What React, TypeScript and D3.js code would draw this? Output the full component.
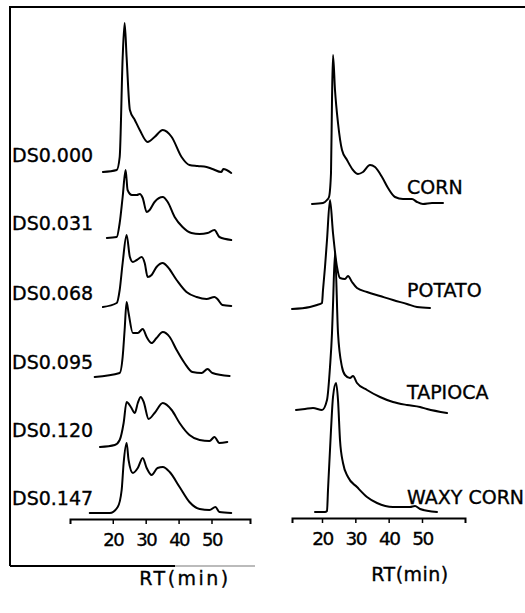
import React, { useEffect, useRef } from "react";
import * as d3 from "d3";

// retention time (min), relative detector response
const ds000 = [[17, 0], [21.2, 2], [22.1, 15], [23, 114], [23.6, 149], [24.2, 115], [25.2, 62], [26.7, 52], [28.2, 42], [30.6, 30], [32.7, 35], [35.2, 42], [37.9, 35], [40.9, 15], [43.3, 7], [45.8, 6], [48.5, 5], [50.3, 3], [53, 0], [53.6, 3], [56, -1]];
const ds031 = [[18.2, 1], [21.2, 2], [22.1, 16], [23, 42], [23.9, 69], [24.5, 49], [25.8, 44], [27.3, 44], [28.2, 45], [29.1, 41], [30.3, 27], [31.2, 29], [32.7, 37], [35.2, 42], [36.7, 37], [38.8, 22], [41.2, 12], [43.9, 6], [46.4, 5], [48.8, 6], [50.9, 9], [52.4, 2], [56, -1]];
const ds068 = [[17, 0], [21.2, 4], [22.1, 17], [23, 44], [24.2, 72], [25.2, 50], [26.1, 45], [27.3, 47], [28.8, 50], [29.7, 44], [30.6, 30], [31.8, 32], [33.3, 40], [35.2, 44], [36.7, 40], [39.4, 27], [42.4, 15], [45.5, 10], [48.5, 8], [50.9, 10], [51.8, 8], [53.3, 2], [56, 1]];
const ds095 = [[14.5, 0], [22.1, 4], [23, 20], [23.6, 47], [24.2, 75], [24.8, 64], [26.1, 44], [27.6, 44], [29.1, 48], [30.3, 40], [31.8, 34], [33.3, 39], [35.2, 45], [37.3, 40], [39.4, 27], [41.8, 14], [44.2, 5], [47, 4], [48.8, 8], [50.3, 4], [55.5, 1]];
const ds120 = [[16.1, 0], [20.6, 2], [22.1, 7], [23.3, 24], [24.2, 45], [25.5, 40], [26.7, 34], [27.6, 44], [28.5, 50], [29.4, 45], [30.9, 28], [32.7, 34], [35.2, 44], [37.9, 37], [40.3, 24], [43.3, 12], [46.4, 7], [49.4, 6], [50.9, 10], [52.4, 4], [54.8, 5]];
const ds147 = [[13, 0], [19.1, 0], [21.5, 6], [22.7, 23], [23.3, 50], [24.2, 70], [24.8, 53], [26.1, 40], [27.6, 45], [29.1, 55], [30.3, 45], [31.8, 38], [33.6, 45], [35.2, 46], [37.3, 41], [40.3, 26], [43.3, 11], [46.4, 4], [49.4, 3], [51.2, 6], [52.4, 1], [56, 0]];

const corn = [[17, 0], [20.3, 1], [21.5, 4], [22.1, 7], [22.7, 31], [23, 104], [23.3, 149], [23.9, 114], [24.8, 81], [26, 54], [27.5, 44], [29.3, 34], [30.8, 30], [32.3, 32], [34.4, 39], [35.9, 37], [38, 27], [39.8, 16], [41.9, 7], [44.3, 5], [47, 5], [48.5, 2], [50.3, 0], [53, 1], [56.3, 1]];
const potato = [[11, -1], [16.4, 1], [18.5, 3], [20, 5], [20.3, 18], [20.9, 41], [21.5, 68], [22.4, 108], [23.3, 75], [24.5, 41], [25.4, 30], [26.9, 29], [27.8, 32], [29, 26], [30.5, 20], [33.5, 16], [37.4, 12], [41.3, 8], [45.5, 4], [48.5, 1], [52.4, 0]];
const tapioca = [[12.2, 0], [14.9, 1], [17.3, 2], [20, 0], [21.5, 10], [22.4, 43], [23, 77], [23.3, 105], [23.9, 157], [24.8, 77], [26, 43], [26.9, 35], [28.4, 32], [29.3, 34], [30.5, 27], [33.5, 20], [37.4, 13], [41.3, 8], [45.5, 5], [49.4, 3], [51.5, 1], [57.5, -3]];
const waxyCorn = [[17.9, 0], [20.9, 0], [21.5, 1], [21.8, 22], [22.7, 82], [23.3, 115], [24.2, 129], [24.8, 112], [25.4, 72], [26.3, 49], [27.8, 35], [30.5, 25], [33.5, 15], [36.5, 9], [41.3, 5], [46.4, 5], [47.9, 6], [49.4, 3], [54.5, 0]];

const leftSeries = [ds000, ds031, ds068, ds095, ds120, ds147];
const leftLabels = ["DS0.000", "DS0.031", "DS0.068", "DS0.095", "DS0.120", "DS0.147"];
const rightSeries = [corn, potato, tapioca, waxyCorn];
const rightLabels = ["CORN", "POTATO", "TAPIOCA", "WAXY CORN"];
const tickValues = [20, 30, 40, 50];
const axisTitle = "RT(min)";

const W = 525;
const H = 613;
const FONT = "'DejaVu Sans', 'Liberation Sans', sans-serif";

const App = () => {
    const svgRef = useRef(null);

    useEffect(() => {
        const svg = d3.select(svgRef.current);
        svg.selectAll("*").remove();

        // frame (open on the right, as in the scan)
        svg.append("path")
            .attr("d", "M10,566 L10,7 L525,7")
            .attr("fill", "none")
            .attr("stroke", "#000")
            .attr("stroke-width", 2);
        svg.append("line")
            .attr("x1", 10).attr("x2", 175).attr("y1", 566).attr("y2", 566)
            .attr("stroke", "#000").attr("stroke-width", 2);
        svg.append("line")
            .attr("x1", 175).attr("x2", 255).attr("y1", 566).attr("y2", 566)
            .attr("stroke", "#bbb").attr("stroke-width", 2);

        const y = d3.scaleLinear().domain([0, 150]).range([0, 150]);

        const panels = [
            {
                x: d3.scaleLinear().domain([7, 61.7]).range([70, 250]),
                series: leftSeries,
                labels: leftLabels,
                baselines: [172, 239, 307, 377, 447, 513],
                labelX: 12,
                labelY: [155, 223, 293, 362, 430, 498],
                axisY: 519,
                tickSize: 18,
                titleX: 185,
                titleSpacing: 2.5,
                titleY: 578,
            },
            {
                x: d3.scaleLinear().domain([11, 62.9]).range([292, 465]),
                series: rightSeries,
                labels: rightLabels,
                baselines: [204, 308, 410, 512],
                labelX: 407,
                labelY: [187, 290, 392, 497],
                axisY: 518,
                tickSize: 18.5,
                titleX: 410,
                titleSpacing: 0.5,
                titleY: 574,
            },
        ];

        panels.forEach(p => {
            p.series.forEach((s, i) => {
                const line = d3
                    .line()
                    .curve(d3.curveMonotoneX)
                    .x(d => p.x(d[0]))
                    .y(d => p.baselines[i] - y(d[1]));

                svg.append("path")
                    .datum(s)
                    .attr("fill", "none")
                    .attr("stroke", "#000")
                    .attr("stroke-width", 2)
                    .attr("stroke-linejoin", "round")
                    .attr("stroke-linecap", "round")
                    .attr("d", line);

                svg.append("text")
                    .attr("x", p.labelX)
                    .attr("y", p.labelY[i])
                    .attr("dy", "0.36em")
                    .attr("font-family", FONT)
                    .attr("font-size", 19)
                    .attr("stroke", "#000")
                    .attr("stroke-width", 0.35)
                    .attr("fill", "#000")
                    .text(p.labels[i]);
            });

            const axis = svg.append("g")
                .attr("transform", `translate(0,${p.axisY})`)
                .call(d3.axisBottom(p.x).tickValues(tickValues).tickSize(5).tickPadding(9));
            axis.select(".domain").attr("stroke", "#000").attr("stroke-width", 2);
            axis.selectAll(".tick line").attr("stroke", "#000").attr("stroke-width", 1.5);
            axis.selectAll(".tick text")
                .attr("font-family", FONT)
                .attr("font-size", p.tickSize)
                .attr("letter-spacing", -1.5)
                .attr("stroke", "#000")
                .attr("stroke-width", 0.35)
                .attr("fill", "#000");

            svg.append("text")
                .attr("x", p.titleX)
                .attr("y", p.titleY)
                .attr("dy", "0.36em")
                .attr("text-anchor", "middle")
                .attr("font-family", FONT)
                .attr("font-size", 19)
                .attr("letter-spacing", p.titleSpacing)
                .attr("stroke", "#000")
                .attr("stroke-width", 0.35)
                .attr("fill", "#000")
                .text(axisTitle);
        });
    }, []);

    return (
        <svg
            ref={svgRef}
            width={W}
            height={H}
            viewBox={`0 0 ${W} ${H}`}
            style={{ position: "absolute", left: 0, top: 0, background: "#fff" }}
        />
    );
};

export default App;
